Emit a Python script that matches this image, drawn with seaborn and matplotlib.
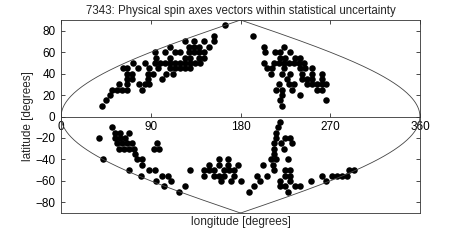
import matplotlib
matplotlib.use('Agg')
import matplotlib.pyplot as plt
import numpy as np
import pandas as pd
import seaborn as sns

# spin axis solutions (longitude, latitude in degrees)
north_lat = ([85] + [75] * 2 + [70] * 4 + [65] * 7 + [60] * 12 + [55] * 10 + [50] * 20
             + [45] * 16 + [40] * 12 + [35] * 9 + [30] * 13 + [25] * 10 + [20] * 3
             + [15] * 3 + [10] * 2)
north_lon = [164,
             153, 193,
             124, 133, 143, 153,
             109, 128, 133, 138, 148, 204, 224,
             94, 104, 114, 119, 128, 133, 138, 143, 205, 215, 220, 230,
             95, 109, 124, 129, 138, 143, 220, 225, 235, 240,
             72, 84, 94, 99, 104, 109, 114, 119, 124, 129, 134, 139, 204, 214, 219, 224, 229, 234, 239, 244,
             62, 66, 77, 88, 97, 109, 114, 119, 124, 129, 207, 212, 224, 240, 245, 252,
             66, 71, 87, 92, 105, 112, 211, 222, 230, 242, 252, 262,
             66, 71, 87, 101, 227, 242, 247, 252, 262,
             58, 66, 78, 84, 88, 219, 229, 234, 247, 252, 257, 262, 266,
             51, 56, 61, 66, 81, 216, 222, 232, 257, 262,
             49, 222, 240,
             45, 220, 266,
             41, 222]

south_lat = ([-5] + [-10] * 2 + [-15] * 4 + [-20] * 7 + [-25] * 8 + [-30] * 8 + [-35] * 2
             + [-40] * 8 + [-45] * 7 + [-50] * 15 + [-55] * 17 + [-60] * 10 + [-65] * 7
             + [-70] * 3)
south_lon = [220,
             51, 218,
             54, 59, 68, 216,
             38, 54, 59, 64, 216, 225, 230,
             56, 61, 66, 71, 96, 214, 221, 232,
             58, 63, 68, 73, 93, 98, 214, 224,
             74, 214,
             42, 76, 81, 158, 167, 211, 216, 228,
             81, 148, 158, 167, 177, 203, 213,
             68, 88, 94, 129, 143, 148, 153, 163, 168, 173, 214, 225, 230, 289, 294,
             80, 101, 107, 143, 153, 158, 163, 173, 197, 207, 225, 230, 262, 272, 277, 282, 287,
             95, 110, 160, 170, 180, 200, 220, 230, 251, 266,
             103, 124, 194, 220, 225, 235, 240,
             118, 188, 228]

x_ticks = [0, 90, 180, 270, 360]
y_ticks = [-80, -60, -40, -20, 0, 20, 40, 60, 80]

df = pd.DataFrame({'lon': north_lon + south_lon, 'lat': north_lat + south_lat})

sns.set_style('ticks')
plt.rcParams['font.family'] = ['Liberation Sans', 'DejaVu Sans']

fig = plt.figure(figsize=(4.63, 2.41), dpi=100)
ax = fig.add_axes([0.132, 0.116, 0.775, 0.801])

# sinusoidal projection outline
b = np.linspace(-90, 90, 181)
half = 180 * np.cos(np.radians(b))
ax.plot(np.concatenate([180 - half, (180 + half)[::-1]]), np.concatenate([b, b[::-1]]),
        color='#444444', lw=0.6)

sns.scatterplot(data=df, x='lon', y='lat', color='black', s=22, linewidth=0, ax=ax, legend=False)

ax.set_xlim(0, 360)
ax.set_ylim(-90, 90)
ax.set_xticks(x_ticks)
ax.set_yticks(y_ticks)
ax.spines['bottom'].set_position(('data', 0))
for s in ax.spines.values():
    s.set_linewidth(0.6)
    s.set_color('#333333')
ax.plot([0, 1], [0, 0], transform=ax.transAxes, color='#333333', lw=0.6, clip_on=False)
ax.tick_params(direction='in', top=True, right=True, length=3, width=0.5, labelsize=8.5,
               colors='black')
ax.tick_params(axis='x', pad=3)
ax.tick_params(axis='y', pad=4)

ax.set_xlabel('longitude [degrees]', fontsize=8.5)
ax.set_ylabel('latitude [degrees]', fontsize=8.5)
ax.xaxis.set_label_coords(0.5, -0.015)
ax.yaxis.set_label_coords(-0.075, 0.5)
ax.set_title('7343: Physical spin axes vectors within statistical uncertainty', fontsize=8.3, pad=4)

fig.savefig('out.png', dpi=100)
